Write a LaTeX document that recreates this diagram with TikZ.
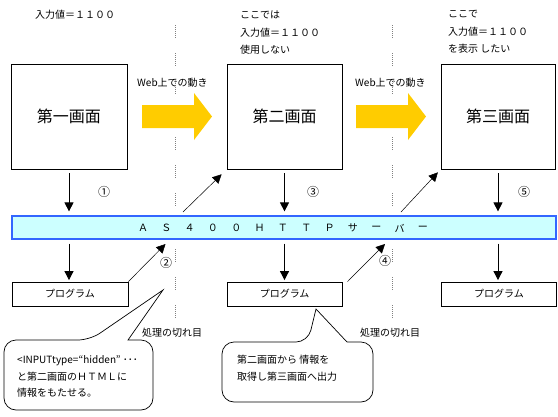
\documentclass[tikz,border=0pt]{standalone}
\usepackage{fontspec}
\setmainfont{Noto Sans CJK JP}
\usetikzlibrary{arrows.meta}

\definecolor{srvfill}{HTML}{CCFFFF}
\definecolor{srvline}{HTML}{3366FF}
\definecolor{flow}{HTML}{FFCC00}

\tikzset{
  every node/.style={inner sep=0pt,font=\fontsize{10}{12}\selectfont},
  screen/.style={draw,line width=.8pt,minimum width=116pt,minimum height=105pt,font=\fontsize{16}{18}\selectfont},
  prog/.style={draw,line width=.8pt,minimum width=115pt,minimum height=24pt},
  server/.style={draw=srvline,fill=srvfill,line width=1.2pt,minimum width=544pt,minimum height=23pt},
  arr/.style={-{Triangle[length=9pt,width=9pt]},line width=.8pt},
  thinarr/.style={-{Triangle[length=9pt,width=9pt]},line width=.5pt},
  cutline/.style={gray,line width=.6pt,dash pattern=on 1pt off 1pt on 1pt off 1pt on 1pt off 1pt on 1pt off 1pt on 1pt off 1pt on 1pt off 1pt on 1pt off 15pt},
  bubble/.style={draw,line width=.7pt,fill=white},
  note/.style={anchor=west},
  step no/.style={font=\fontsize{12}{14}\selectfont}
}

\begin{document}
\begin{tikzpicture}[x=1pt,y=-1pt]
  \useasboundingbox (0,0) rectangle (558,416);

  % where the processing is cut
  \foreach \x in {175,392}
    \draw[cutline] (\x,25) -- (\x,322);

  % texts on top
  \node[note] (t1) at (35,15) {入力値＝１１００};
  \node[note] (t2a) at (240,15) {ここでは};
  \node[note] (t2b) at (240,33) {入力値＝１１００};
  \node[note] (t2c) at (240,50) {使用しない};
  \node[note] (t3a) at (448,14) {ここで};
  \node[note] (t3b) at (448,32) {入力値＝１１００};
  \node[note] (t3c) at (448,49) {を表示 したい};

  % screens
  \node[screen] (S1) at (69,116.5) {第一画面};
  \node[screen,minimum width=115pt] (S2) at (284.5,116.5) {第二画面};
  \node[screen,minimum width=114pt] (S3) at (498,116.5) {第三画面};

  % web flow
  \foreach \dx in {0,214}
    \fill[flow] (142+\dx,105) -- (194+\dx,105) -- (194+\dx,93) -- (212+\dx,116.5)
      -- (194+\dx,140) -- (194+\dx,128) -- (142+\dx,128) -- cycle;
  \node[note] (w1) at (137,83) {Web上での動き};
  \node[note] (w2) at (355,83) {Web上での動き};

  % server
  \node[server] (H) at (284,227.5) {};
  \foreach \c [count=\i from 0] in {Ａ,Ｓ,４,０,０,Ｈ,Ｔ,Ｔ,Ｐ,サ,ー,バ,ー}
    \node (h\i) at (143+23.33*\i,228) {\c};

  % programs
  \node[prog,minimum width=116pt] (P1) at (70,294) {プログラム};
  \node[prog] (P2) at (284.6,294) {プログラム};
  \node[prog] (P3) at (499,294) {プログラム};

  \foreach \n in {1,2,3} {
    \draw[arr,shorten <=4pt,shorten >=4pt] (S\n.south) -- (S\n.south |- H.north);
    \draw[arr,shorten <=4pt,shorten >=1.5pt] (S\n.south |- H.south) -- (S\n.south |- P\n.north);
  }

  \coordinate (a2) at (165.5,244);
  \coordinate (a4) at (385,244);
  \coordinate (b2) at (183,212);
  \coordinate (b4) at (401,212);
  \draw[thinarr] (P1.north east) -- (a2);
  \draw[thinarr] ([xshift=5pt]P2.north east) -- (a4);
  \draw[thinarr,shorten >=7pt] (b2) -- (S2.south west);
  \draw[thinarr,shorten >=4pt] (b4) -- (S3.south west);

  \node[step no] (n1) at (104,192) {①};
  \node[step no] (n2) at (166,263) {②};
  \node[step no] (n3) at (313,192) {③};
  \node[step no] (n4) at (385,261) {④};
  \node[step no] (n5) at (524,192) {⑤};

  % callouts
  \draw[bubble,rounded corners=12pt] (4,375) -- (4,340) -- (90,340) [sharp corners] -- (163,290)
    -- (128,340) [rounded corners=12pt] -- (153,340) -- (153,410) -- (4,410) -- cycle;
  \node[note] (l1) at (17,361) {<INPUTtype=“hidden” ･･･};
  \node[note] (l2) at (17,377) {と第二画面のＨＴＭＬに};
  \node[note] (l3) at (17,393) {情報をもたせる。};

  \draw[bubble,rounded corners=12pt] (222,372) -- (222,342) -- (308,342) [sharp corners] -- (316,309)
    -- (347,342) [rounded corners=12pt] -- (373,342) -- (373,402) -- (222,402) -- cycle;
  \node[note] (m1) at (237,360) {第二画面から 情報を};
  \node[note] (m2) at (237,377) {取得し第三画面へ出力};

  \node[note] (k1) at (142,333) {処理の切れ目};
  \node[note] (k2) at (360,333) {処理の切れ目};
\end{tikzpicture}
\end{document}
